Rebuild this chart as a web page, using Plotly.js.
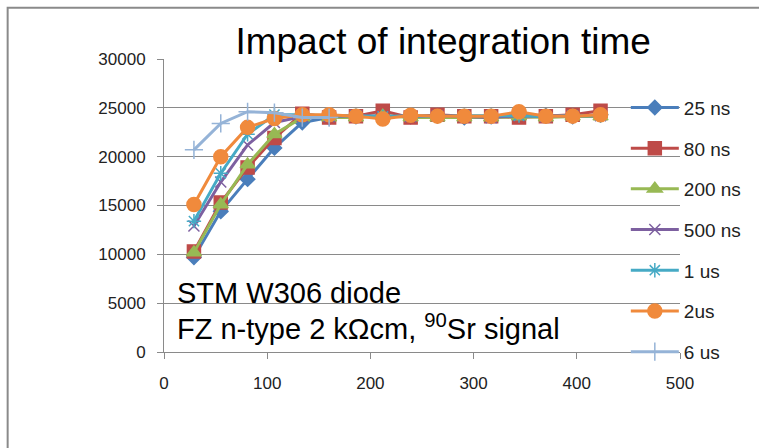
<!DOCTYPE html>
<html>
<head>
<meta charset="utf-8">
<script src="https://cdn.plot.ly/plotly-3.0.1.min.js"></script>
<style>
  html, body { margin: 0; padding: 0; background: #ffffff; }
  #chart { width: 759px; height: 448px; }
</style>
</head>
<body>
<div id="chart"></div>
<script>
// Collected charge vs. delay for several shaper integration times
const delay = [29, 55, 81, 107, 134, 160, 186, 212, 239, 265, 291, 317, 344, 370, 396, 423];

const s25ns  = [9700, 14400, 17700, 20900, 23500, 24000, 24100, 24200, 24100, 24200, 24000, 24100, 24300, 24200, 24100, 24300];
const s80ns  = [10300, 15300, 18900, 21900, 24400, 24000, 24150, 24700, 24000, 24300, 24150, 24150, 24000, 24150, 24300, 24700];
const s200ns = [10200, 15100, 19200, 22300, 24000, 24000, 24000, 24200, 24000, 24000, 24000, 24000, 24100, 24000, 24100, 24100];
const s500ns = [12900, 17400, 21200, 23500, 24100, 24100, 24200, 24100, 24100, 24200, 24100, 24000, 24200, 24100, 24200, 24200];
const s1us   = [13400, 18300, 22300, 24300, 24300, 24200, 24200, 24100, 24200, 24100, 24200, 24200, 24200, 24100, 24200, 24200];
const s2us   = [15100, 20000, 23000, 23900, 24300, 24300, 24150, 23850, 24250, 24150, 24150, 24150, 24600, 24150, 24150, 24300];
const s6us   = [20700, 23400, 24600, 24500, 24000, 24000];

const names  = ['25 ns', '80 ns', '200 ns', '500 ns', '1 us', '2us', '6 us'];
const series = [s25ns, s80ns, s200ns, s500ns, s1us, s2us, s6us];
const colors = ['#4a7ebb', '#be4b48', '#98b954', '#7d60a0', '#46aac5', '#f08a3c', '#95b3d7'];
const symbols = ['diamond', 'square', 'triangle-up', 'x-thin-open', 'asterisk-open', 'circle', 'cross-thin-open'];
const sizes   = [11, 13, 13, 11, 12, 14, 13];

const traces = series.map((ys, i) => ({
  type: 'scatter',
  mode: 'lines+markers',
  name: names[i],
  legendgroup: 'g' + i,
  x: delay.slice(0, ys.length),
  y: ys,
  line: { color: colors[i], width: 3 },
  marker: {
    symbol: symbols[i],
    size: sizes[i],
    color: colors[i],
    line: { color: colors[i], width: 1.5 }
  }
}));

const FONT = '"Liberation Sans", Arial, sans-serif';

const layout = {
  width: 759,
  height: 448,
  margin: { l: 164, r: 76, t: 59, b: 96 },
  paper_bgcolor: '#ffffff',
  plot_bgcolor: '#ffffff',
  font: { family: FONT, color: '#000000' },
  showlegend: true,
  title: {
    text: 'Impact of integration time',
    font: { family: FONT, size: 37, color: '#000000' },
    xref: 'paper', x: 0.541, xanchor: 'center',
    yref: 'container', y: 0.908, yanchor: 'middle'
  },
  xaxis: {
    range: [0, 500],
    dtick: 100,
    showgrid: false,
    zeroline: false,
    showline: true,
    linecolor: '#8a8a8a',
    linewidth: 1,
    ticks: 'outside',
    ticklen: 6,
    tickcolor: '#8a8a8a',
    tickfont: { family: FONT, size: 17, color: '#222222' },
    ticklabelstandoff: 10
  },
  yaxis: {
    range: [0, 30000],
    dtick: 5000,
    tickformat: 'd',
    showgrid: true,
    gridcolor: '#8a8a8a',
    gridwidth: 1,
    zeroline: false,
    showline: true,
    linecolor: '#8a8a8a',
    linewidth: 1,
    ticks: 'outside',
    ticklen: 6,
    tickcolor: '#8a8a8a',
    tickfont: { family: FONT, size: 17, color: '#222222' },
    ticklabelstandoff: 8
  },
  legend: {
    x: 0.895, xanchor: 'left',
    y: 0.899, yanchor: 'top',
    bgcolor: 'rgba(0,0,0,0)',
    borderwidth: 0,
    traceorder: 'grouped',
    tracegroupgap: 13,
    itemwidth: 48,
    font: { family: FONT, size: 19, color: '#222222' }
  },
  annotations: [
    {
      xref: 'paper', yref: 'paper',
      x: 0.022, y: 0.2, xanchor: 'left', yanchor: 'middle',
      text: 'STM W306 diode',
      showarrow: false,
      font: { family: FONT, size: 29, color: '#000000' }
    },
    {
      xref: 'paper', yref: 'paper',
      x: 0.022, y: 0.085, xanchor: 'left', yanchor: 'middle',
      text: 'FZ n-type 2 kΩcm, <sup>90</sup>Sr signal',
      showarrow: false,
      font: { family: FONT, size: 29, color: '#000000' }
    }
  ],
  shapes: [
    {
      type: 'rect', xref: 'paper', yref: 'paper',
      x0: -0.303, x1: 1.3, y0: -0.6, y1: 1.175,
      line: { color: '#8a8a8a', width: 2 },
      fillcolor: 'rgba(0,0,0,0)',
      layer: 'below'
    }
  ]
};

Plotly.newPlot('chart', traces, layout, { displayModeBar: false, staticPlot: true });
</script>
</body>
</html>
